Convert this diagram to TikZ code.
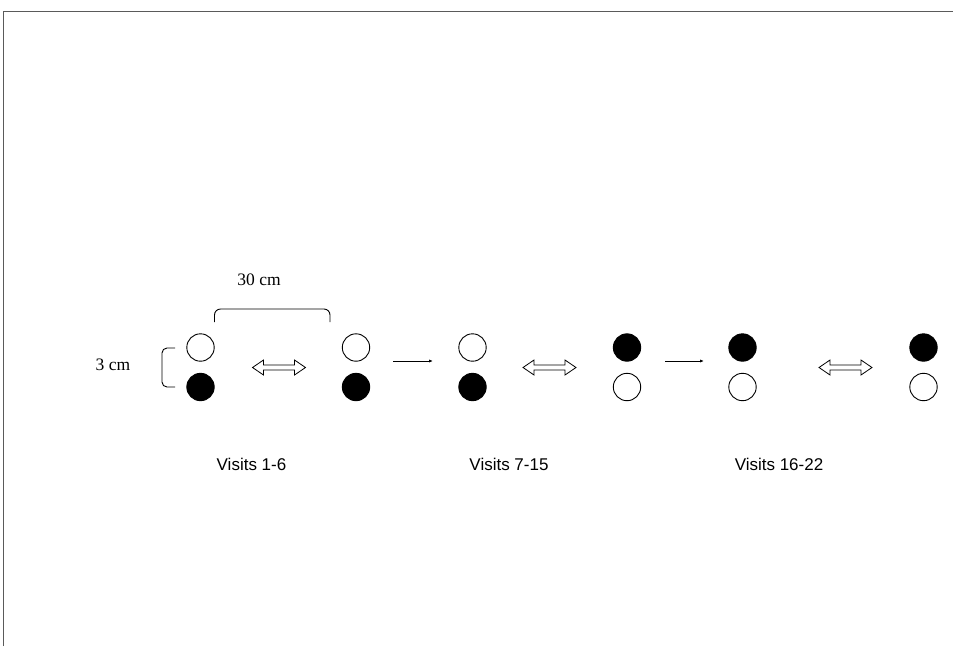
\documentclass[tikz,border=0pt]{standalone}
\usepackage{fontspec}
\setmainfont{Liberation Serif}
\newfontfamily\arialf{Liberation Sans}
\usetikzlibrary{arrows.meta}
\definecolor{framegray}{RGB}{90,90,90}
\begin{document}
\begin{tikzpicture}[x=1pt,y=-1pt,
  opendot/.style={circle,draw=black,line width=0.9pt,fill=white,minimum size=27.4pt,inner sep=0pt},
  fulldot/.style={circle,draw=black,line width=0.9pt,fill=black,minimum size=27.4pt,inner sep=0pt},
  visitlbl/.style={font=\arialf\fontsize{17}{20}\selectfont,anchor=base,inner sep=0pt},
  cmlbl/.style={font=\fontsize{17.5}{20}\selectfont,anchor=base,inner sep=0pt},
  thinarrow/.style={line width=0.8pt,-{Latex[length=4pt,width=3.2pt]}},
  bracketline/.style={line width=0.9pt,rounded corners=6pt},
  dblarrow/.pic={\draw[line width=0.8pt,line join=miter]
     (-26.5,0) -- (-15.5,-7.5) -- (-15.5,-2.5) -- (15.5,-2.5) -- (15.5,-7.5) -- (26.5,0)
     -- (15.5,7.5) -- (15.5,2.5) -- (-15.5,2.5) -- (-15.5,7.5) -- cycle;}
]
\useasboundingbox (0,0) rectangle (953,646);
% frame
\draw[framegray,line width=1.1pt] (3.5,646) -- (3.5,11.5) -- (953,11.5);

% dots
\node[opendot] (a1) at (200.5,347.5) {};
\node[fulldot] (a2) at (200.5,387) {};
\node[opendot] (b1) at (356,347.5) {};
\node[fulldot] (b2) at (356,387) {};
\node[opendot] (c1) at (472.5,347.5) {};
\node[fulldot] (c2) at (472.5,387) {};
\node[fulldot] (d1) at (627,347.5) {};
\node[opendot] (d2) at (627,387) {};
\node[fulldot] (e1) at (742.5,347.5) {};
\node[opendot] (e2) at (742.5,387) {};
\node[fulldot] (f1) at (923.5,347.5) {};
\node[opendot] (f2) at (923.5,387) {};

% double arrows
\pic at (279,367.5) {dblarrow};
\pic at (549.5,367.5) {dblarrow};
\pic at (845.5,367.5) {dblarrow};

% simple arrows
\coordinate (s1) at (393,361);
\coordinate (t1) at (433,361);
\coordinate (s2) at (665,361);
\coordinate (t2) at (704,361);
\draw[thinarrow] (s1) -- (t1);
\draw[thinarrow] (s2) -- (t2);

% brackets
\coordinate (p1) at (214.5,322);
\coordinate (p2) at (330,322);
\draw[bracketline] (p1) -- (214.5,309) -- (330,309) -- (p2);
\coordinate (q1) at (175,348);
\coordinate (q2) at (175,387);
\draw[bracketline,rounded corners=5pt] (q1) -- (162,348) -- (162,387) -- (q2);

\node[cmlbl] (l30) at (259,285) {30 cm};
\node[cmlbl] (l3) at (113,370.5) {3 cm};

% visit labels
\node[visitlbl] (v1) at (251.5,470) {Visits 1-6};
\node[visitlbl] (v2) at (509,470) {Visits 7-15};
\node[visitlbl] (v3) at (779,470) {Visits 16-22};
\end{tikzpicture}
\end{document}
